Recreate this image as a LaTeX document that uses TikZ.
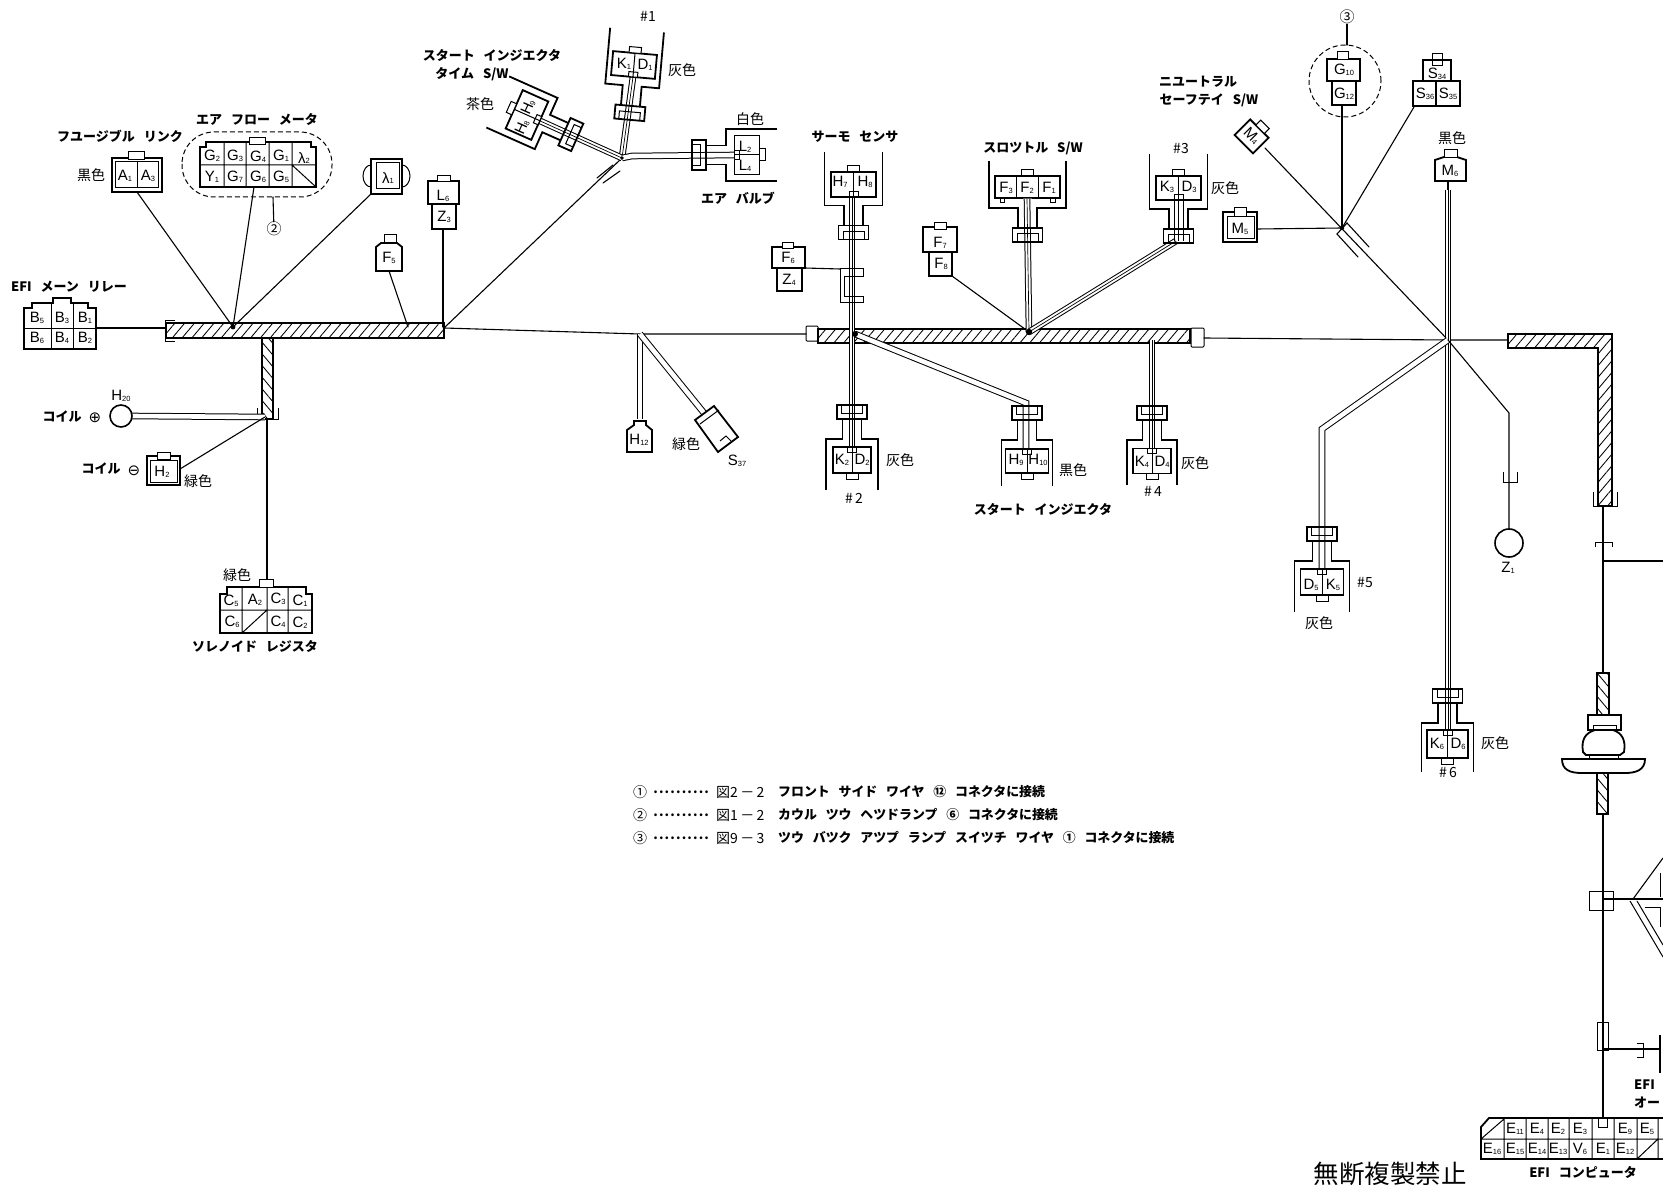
\documentclass[tikz,border=0pt]{standalone}
\usepackage{fontspec}
\usetikzlibrary{patterns.meta}
\setmainfont{Liberation Sans}
\newfontfamily\jp[WordSpace=3]{Noto Sans CJK JP}
\newfontfamily\dejaf{DejaVu Sans}
\newcommand\pn[2]{#1\raisebox{-.5pt}{\fontsize{7.5}{7.5}\selectfont #2}}
\def\tabh{5}
\tikzset{
 wire/.style={line width=1.1pt,line cap=round},
 box/.style={line width=1.8pt,line join=miter},
 thinbox/.style={line width=1pt},
 bundle/.style={draw=black,double=white,double distance=4.6pt,line width=1pt,line join=miter},
 midw/.style={line width=.7pt},
 harn/.style={draw=black,line width=1.2pt,pattern={Lines[angle=50,distance=7.5pt,line width=.85pt]}},
 harnb/.style={draw=black,line width=1.2pt,pattern={Lines[angle=-50,distance=7.5pt,line width=.85pt]}},
 pl/.style={inner sep=0pt,font=\fontsize{15}{15}\selectfont},
 kt/.style={inner sep=0pt,font=\jp\bfseries\fontsize{13}{13}\selectfont},
 num/.style={inner sep=0pt,font=\jp\fontsize{14}{14}\selectfont},
 col/.style={inner sep=0pt,font=\jp\fontsize{14}{14}\selectfont},
 cn/.style={inner sep=0pt,font=\jp\fontsize{15}{15}\selectfont},
 lg/.style={inner sep=0pt,anchor=west,font=\jp\bfseries\fontsize{12.9}{12.9}\selectfont},
 lgr/.style={inner sep=0pt,anchor=west,font=\jp\fontsize{14}{14}\selectfont},
 dashb/.style={line width=1pt,dash pattern=on 5pt off 3pt}
}
\newcommand\twin[1]{\draw[bundle] #1;\draw[midw] #1;}
% injector body: x y rot flip walltop wallhalf connhalf connh
\newcommand\injbody[8]{%
 \begin{scope}[shift={(#1,#2)},rotate=#3,yscale=#4]
  \draw[box] (-#6,-#5) -- (-#6,21) -- (-9.5,21) -- (-9.5,41);
  \draw[box] (#6,-#5) -- (#6,21) -- (9.5,21) -- (9.5,41);
  \draw[box] (-15,41) rectangle (15,55);
  \draw[thinbox] (-10.5,55) -- (-10.5,47) -- (10.5,47) -- (10.5,55);
  \draw[box,fill=white] (-#7,-#8) rectangle (#7,#8);
  \draw[thinbox,fill=white] (-6,-#8-6) rectangle (6,-#8);
  \draw[thinbox,fill=white] (-4.5,#8-\tabh) rectangle (4.5,#8);
 \end{scope}}
\newcommand\inj[8]{\injbody{#1}{#2}{#3}{#4}{#5}{#6}{#7}{#8}%
 \begin{scope}[shift={(#1,#2)},rotate=#3,yscale=#4]\draw[thinbox] (0,-#8) -- (0,#8);\end{scope}}
\begin{document}
\begin{tikzpicture}[x=1pt,y=-1pt]
\fill[white] (0,0) rectangle (1663,1185);
\useasboundingbox (0,0) rectangle (1663,1185);
% hubs
\coordinate (hubA) at (233,327);
\coordinate (hubB) at (444,328);
\coordinate (hubC) at (622,158);
\coordinate (hubD) at (640,334);
\coordinate (hubE) at (855,334);
\coordinate (hubF) at (1029,332);
\coordinate (hubG) at (1342,228);
\coordinate (hubH) at (1448,340);
\coordinate (hubI) at (1603,561);
% harnesses
\draw[harn] (166,323) rectangle (444,338);
\draw[harnb] (262,338) rectangle (273,419);
\draw[harn] (818,329) rectangle (1190,343);
\draw[harn] (1508,334) -- (1612,334) -- (1612,506) -- (1598,506) -- (1598,348) -- (1508,348) -- cycle;
\draw[harnb] (1597,673) rectangle (1609,715);
\draw[harnb] (1597,773) rectangle (1608,814);
% end caps
\draw[thinbox] (175,320) -- (165,320) -- (165,341) -- (175,341);
\draw[thinbox] (257,408) -- (257,419) -- (278,419) -- (278,408);
\draw[thinbox,rounded corners=1pt] (806,326) rectangle (818,341);
\draw[thinbox,rounded corners=1pt] (1191,328) rectangle (1204,347);
\draw[thinbox] (1593,492) -- (1593,506) -- (1617,506) -- (1617,492);
% main wires
\coordinate (capL) at (806,334);
\coordinate (capR) at (1204,338);
\coordinate (relay) at (96,328);
\coordinate (harnL) at (165,328);
\draw[wire] (relay) -- (harnL);
\draw[wire] (hubB) -- (hubD) -- (capL);
\draw[wire] (capR) -- (hubH) -- (1508,340);
% EFI main relay
\draw[box] (24,349) -- (24,308) -- (32,308) -- (32,303) -- (53,303) -- (53,298) -- (71,298) -- (71,303) -- (88,303) -- (88,308) -- (96,308) -- (96,349) -- cycle;
\draw[thinbox] (24,328) -- (96,328) (51,303) -- (51,349) (73,303) -- (73,349);
\node[kt] (tEFI) at (69,287) {EFI メーン リレー};
\node[pl] (b5) at (37,318) {\pn{B}{5}};
\node[pl] (b3) at (62,318) {\pn{B}{3}};
\node[pl] (b1) at (85,318) {\pn{B}{1}};
\node[pl] (b6) at (37,338) {\pn{B}{6}};
\node[pl] (b4) at (62,338) {\pn{B}{4}};
\node[pl] (b2) at (85,338) {\pn{B}{2}};
% fusible link
\coordinate (pA) at (137,192);
\draw[box] (112,158) rectangle (162,192);
\draw[thinbox] (115,162) rectangle (158,188) (137,162) -- (137,188);
\draw[thinbox,fill=white] (128,152) rectangle (144,160);
\node[kt] (tFL) at (120,136) {フユージブル リンク};
\node[col] (cA) at (91,175) {黒色};
\node[pl] (a1) at (125,176) {\pn{A}{1}};
\node[pl] (a3) at (148,176) {\pn{A}{3}};
\draw[wire] (pA) -- (hubA);
% air flow meter
\node[kt] (tAF) at (257,119) {エア フロー メータ};
\draw[dashb,rounded corners=32pt] (182,132) rectangle (332,197);
\draw[box] (200,187) -- (200,147) -- (206,147) -- (206,142) -- (311,142) -- (311,147) -- (316,147) -- (316,187) -- cycle;
\draw[thinbox] (200,165) -- (316,165) (224,142) -- (224,187) (246,142) -- (246,187) (269,142) -- (269,187) (292,142) -- (292,187) (292,165) -- (316,187);
\draw[thinbox,fill=white] (249,138) rectangle (265,145);
\node[pl] (g2) at (212,156) {\pn{G}{2}};
\node[pl] (g3) at (235,156) {\pn{G}{3}};
\node[pl] (g4) at (258,157) {\pn{G}{4}};
\node[pl] (g1) at (281,156) {\pn{G}{1}};
\node[pl] (l2) at (304,158) {\pn{λ}{2}};
\node[pl] (y1) at (212,177) {\pn{Y}{1}};
\node[pl] (g7) at (235,177) {\pn{G}{7}};
\node[pl] (g6) at (258,177) {\pn{G}{6}};
\node[pl] (g5) at (281,177) {\pn{G}{5}};
\coordinate (pG) at (254,187);
\draw[wire] (pG) -- (hubA);
\node[cn] (c2) at (274,229) {②};
\coordinate (oval2) at (273,197);
\draw[wire] (oval2) -- (c2);
% lambda 1
\coordinate (pL) at (371,194);
\draw[box] (371,159) rectangle (402,194);
\draw[thinbox] (376,163) rectangle (399,189);
\draw[thinbox] (371,165) arc[start angle=90,end angle=270,x radius=8pt,y radius=11pt];
\draw[thinbox] (402,165) arc[start angle=90,end angle=-90,x radius=8pt,y radius=11pt];
\node[pl] (l1) at (388,178) {\pn{λ}{1}};
\draw[wire] (pL) -- (hubA);
% L6 Z3
\draw[box] (428,181) rectangle (459,204);
\draw[box] (432,204) rectangle (456,229);
\draw[thinbox,fill=white] (437,176) rectangle (450,182);
\node[pl] (l6) at (443,196) {\pn{L}{6}};
\node[pl] (z3) at (444,217) {\pn{Z}{3}};
\coordinate (pZ3) at (443,229);
\draw[wire] (pZ3) -- (443,327);
% F5
\draw[box] (376,271) -- (376,247) -- (381,243) -- (397,243) -- (402,247) -- (402,271) -- cycle;
\draw[thinbox] (384,243) -- (384,235) -- (396,235) -- (396,243);
\node[pl] (f5) at (389,258) {\pn{F}{5}};
\coordinate (pF5) at (389,271);
\draw[wire] (pF5) -- (408,327);
% hub C wires
\draw[wire] (hubB) -- (hubC);
\draw[wire] (597,178) -- (613,165) (603,183) -- (620,171);
\coordinate (p1) at (633,77);
\coordinate (pSW) at (538,120);
\coordinate (pAV) at (735,155);
\twin{(hubC) -- (p1)}
\twin{(hubC) -- (pSW)}
\draw[bundle] (hubC) -- (632,156) -- (pAV);
\inj{634}{65}{-5}{1}{35}{27}{22}{12}
\inj{527}{115}{66}{1}{32}{28}{21}{14}
\inj{747}{155}{-90}{1}{30}{26}{19.5}{12.5}
\node[num] (n1) at (648,16) {\#1};
\node[col] (c1) at (682,70) {灰色};
\node[pl] (k1) at (624,64) {\pn{K}{1}};
\node[pl] (d1) at (645,65) {\pn{D}{1}};
\node[kt] (tSI) at (492,55) {スタート インジエクタ};
\node[kt] (tTS) at (472,74) {タイム S/W};
\node[col] (cCh) at (480,104) {茶色};
\node[pl,rotate=66] (h9a) at (528,107) {\pn{H}{9}};
\node[pl,rotate=66] (h8a) at (522,127) {\pn{H}{8}};
\node[col] (cW) at (750,119) {白色};
\node[kt] (tAV) at (738,198) {エア バルブ};
\node[pl] (l2b) at (745,147) {\pn{L}{2}};
\node[pl] (l4b) at (745,166) {\pn{L}{4}};
% coil
\coordinate (pH20) at (132,416);
\coordinate (hubCoil) at (265,417);
\draw[bundle] (pH20) -- (hubCoil);
\node[draw,circle,line width=1.6pt,minimum size=22pt,inner sep=0pt,fill=white] (h20) at (121,416) {};
\node[pl] (th20) at (121,396) {\pn{H}{20}};
\node[kt] (tC1) at (62,417) {コイル};
\node[inner sep=0pt,font=\dejaf\fontsize{15}{15}\selectfont] (plus) at (95,418) {⊕};
\node[kt] (tC2) at (101,469) {コイル};
\node[inner sep=0pt,font=\dejaf\fontsize{15}{15}\selectfont] (minus) at (134,471) {⊖};
\draw[box] (147,456) rectangle (180,485);
\draw[thinbox] (150,460) rectangle (177,482);
\draw[thinbox,fill=white] (157,452) rectangle (170,459);
\node[pl] (h2) at (162,472) {\pn{H}{2}};
\node[col] (cG1) at (198,481) {緑色};
\coordinate (pH2) at (180,469);
\draw[wire] (pH2) -- (hubCoil);
% solenoid resistor
\coordinate (pSR) at (267,579);
\draw[wire] (267,420) -- (pSR);
\draw[box] (220,633) -- (220,594) -- (227,594) -- (227,587) -- (306,587) -- (306,594) -- (312,594) -- (312,633) -- cycle;
\draw[thinbox] (220,610) -- (312,610) (242,587) -- (242,633) (267,587) -- (267,633) (288,587) -- (288,633) (242,633) -- (267,610);
\draw[thinbox,fill=white] (259,579) rectangle (273,587);
\node[col] (cG2) at (237,575) {緑色};
\node[kt] (tSR) at (255,646) {ソレノイド レジスタ};
\node[pl] (c5) at (231,601) {\pn{C}{5}};
\node[pl] (a2) at (255,600) {\pn{A}{2}};
\node[pl] (c3) at (278,599) {\pn{C}{3}};
\node[pl] (c1t) at (300,601) {\pn{C}{1}};
\node[pl] (c6) at (232,622) {\pn{C}{6}};
\node[pl] (c4) at (278,622) {\pn{C}{4}};
\node[pl] (c2t) at (300,623) {\pn{C}{2}};
% H12, S37
\coordinate (pH12) at (640,419);
\draw[bundle] (hubD) -- (pH12);
\draw[box] (627,452) -- (627,430) -- (634,425) -- (634,421) -- (646,421) -- (646,425) -- (652,430) -- (652,452) -- cycle;
\node[pl] (h12) at (639,440) {\pn{H}{12}};
\coordinate (pS37) at (704,413);
\draw[bundle] (hubD) -- (pS37);
\draw[box] (695,420) -- (714,406) -- (738,437) -- (718,452) -- cycle;
\draw[thinbox] (700,424) -- (719,410);
\draw[thinbox] (720,441) -- (726,436) -- (731,441);
\node[col] (cG3) at (686,444) {緑色};
\node[pl] (s37) at (737,461) {\pn{S}{37}};
% thermo sensor / #2
\coordinate (pH7) at (852,197);
\coordinate (pK2) at (852,447);
\twin{(pH7) -- (pK2)}
\inj{853.5}{184.5}{0}{1}{32.5}{29}{22.5}{12.5}
\inj{852}{460}{0}{-1}{30}{26}{19}{13}
\node[kt] (tTH) at (855,137) {サーモ センサ};
\node[pl] (h7) at (840,182) {\pn{H}{7}};
\node[pl] (h8) at (865,182) {\pn{H}{8}};
\node[pl] (k2) at (842,460) {\pn{K}{2}};
\node[pl] (d2) at (862,460) {\pn{D}{2}};
\node[col] (cg2a) at (900,460) {灰色};
\node[num] (n2) at (854,498) {\#\,2};
% F6 Z4
\draw[box] (772,247) rectangle (805,268);
\draw[box] (777,268) rectangle (802,291);
\draw[thinbox,fill=white] (782,243) rectangle (793,249);
\node[pl] (f6) at (788,258) {\pn{F}{6}};
\node[pl] (z4) at (789,280) {\pn{Z}{4}};
\coordinate (pF6) at (805,268);
\coordinate (clip) at (840,269);
\draw[wire] (pF6) -- (clip);
\draw[thinbox] (clip) -- (863,269) -- (863,276) -- (844,276) -- (844,296) -- (863,296) -- (863,302) -- (840,302) -- cycle;
% F7 F8
\draw[box] (923,227) rectangle (957,252);
\draw[box] (929,252) rectangle (952,276);
\draw[thinbox,fill=white] (934,223) rectangle (946,230);
\node[pl] (f7) at (940,243) {\pn{F}{7}};
\node[pl] (f8) at (941,264) {\pn{F}{8}};
\coordinate (pF8) at (952,276);
\draw[wire] (pF8) -- (hubF);
% throttle
\coordinate (pF2) at (1027,198);
\twin{(pF2) -- (hubF)}
\def\tabh{0.01}
\injbody{1027.5}{187}{0}{1}{26}{38.5}{32.5}{11}
\def\tabh{5}
\draw[thinbox] (1016,176) -- (1016,198) (1038,176) -- (1038,198);
\draw[thinbox] (1000,198) rectangle (1004,203) (1050,198) rectangle (1055,203);
\node[kt] (tTS2) at (1033,148) {スロツトル S/W};
\node[pl] (f3) at (1006,188) {\pn{F}{3}};
\node[pl] (f2) at (1027,188) {\pn{F}{2}};
\node[pl] (f1) at (1049,188) {\pn{F}{1}};
% #3
\coordinate (pK3) at (1176,241);
\twin{(hubF) -- (pK3)}
\draw[midw] (1178.5,200) -- (1178.5,241) (1174,200) -- (1174,241) (1183,200) -- (1183,241);
\inj{1178.5}{188}{0}{1}{34}{29}{22.5}{12}
\node[num] (n3) at (1181,149) {\#3};
\node[pl] (k3) at (1167,187) {\pn{K}{3}};
\node[pl] (d3) at (1189,187) {\pn{D}{3}};
\node[col] (cg3) at (1225,188) {灰色};
% start injector
\coordinate (pSI) at (1026,449);
\draw[bundle] (hubE) -- (1026,403) -- (pSI);
\inj{1027}{461}{0}{-1}{25}{25.5}{21.5}{12}
\node[pl] (h9) at (1016,460) {\pn{H}{9}};
\node[pl] (h10) at (1038,460) {\pn{H}{10}};
\node[col] (cb2) at (1073,470) {黒色};
\node[kt] (tSI2) at (1043,509) {スタート インジエクタ};
% #4
\coordinate (pK4a) at (1152,340);
\coordinate (pK4) at (1152,449);
\twin{(pK4a) -- (pK4)}
\inj{1152}{461}{0}{-1}{24}{25}{19}{12.5}
\node[pl] (k4) at (1142,462) {\pn{K}{4}};
\node[pl] (d4) at (1162,462) {\pn{D}{4}};
\node[col] (cg4) at (1195,463) {灰色};
\node[num] (n4) at (1153,491) {\#\,4};
% blobs
\fill (hubA) circle (2.4pt) (hubB) circle (1.5pt) (hubC) circle (1.8pt) (hubE) circle (3pt) (hubF) circle (3.2pt) (hubG) circle (2.2pt) (hubH) circle (3pt);
% hub G group
\coordinate (pM4) at (1265,148);
\coordinate (pG12) at (1342,105);
\coordinate (pS36) at (1414,107);
\coordinate (pM5) at (1257,229);
\draw[wire] (pM4) -- (hubH);
\draw[wire] (pG12) -- (hubG);
\draw[wire] (pS36) -- (hubG);
\draw[wire] (pM5) -- (hubG);
\draw[wire] (1358,257) -- (1337,234) -- (1347,223) -- (1369,247);
% M4
\begin{scope}[shift={(1253,135)},rotate=-45]
 \draw[box,fill=white] (-13,-9) -- (13,-9) -- (13,13) -- (-13,13) -- cycle;
 \draw[thinbox,fill=white] (-5,-16) rectangle (7,-9);
\end{scope}
\node[pl,rotate=-45] (m4) at (1252,136) {\pn{M}{4}};
% G10 G12
\draw[dashb] (1345,81) circle (36pt);
\draw[box] (1327,59) rectangle (1360,81);
\draw[box] (1332,81) rectangle (1356,105);
\draw[thinbox,fill=white] (1337,52) rectangle (1348,60);
\node[pl] (g10) at (1344,70) {\pn{G}{10}};
\node[pl] (g12) at (1344,94) {\pn{G}{12}};
\node[cn] (c3) at (1347,17) {③};
\coordinate (oval3) at (1347,45);
\draw[wire] (c3) -- (oval3);
% S34-36
\draw[box] (1423,60) rectangle (1451,81);
\draw[box] (1413,81) rectangle (1436,106);
\draw[box] (1436,81) rectangle (1460,106);
\draw[thinbox] (1432,54) rectangle (1442,66) (1432,60) -- (1442,60);
\node[pl] (s34) at (1437,74) {\pn{S}{34}};
\node[pl] (s36) at (1425,94) {\pn{S}{36}};
\node[pl] (s35) at (1448,94) {\pn{S}{35}};
% M5
\draw[box] (1223,212) rectangle (1257,242);
\draw[thinbox] (1227,217) rectangle (1254,239);
\draw[thinbox,fill=white] (1234,208) rectangle (1246,217);
\node[pl] (m5) at (1240,229) {\pn{M}{5}};
\node[kt] (tNS1) at (1198,82) {ニユートラル};
\node[kt] (tNS2) at (1209,100) {セーフテイ S/W};
% M6 and #6
\draw[box] (1435,181) -- (1435,160) -- (1444,157) -- (1457,157) -- (1466,160) -- (1466,181) -- cycle;
\draw[thinbox,fill=white] (1444,150) rectangle (1457,158);
\node[pl] (m6) at (1450,171) {\pn{M}{6}};
\node[col] (cb3) at (1452,138) {黒色};
\coordinate (pM6) at (1448,181);
\coordinate (pK6) at (1448,730);
\draw[wire] (pM6) -- (1448,190);
\draw[bundle] (1448,190) -- (pK6);
\draw[midw] (1448,190) -- (pK6);
\inj{1447.5}{744}{0}{-1}{28}{26}{20.5}{14}
\node[pl] (k6) at (1437,744) {\pn{K}{6}};
\node[pl] (d6) at (1458,744) {\pn{D}{6}};
\node[col] (cg6) at (1495,743) {灰色};
\node[num] (n6) at (1448,773) {\#\,6};
% #5
\coordinate (pK5) at (1322,569);
\draw[bundle] (hubH) -- (1322,429) -- (pK5);
\inj{1322}{582}{0}{-1}{30}{27.5}{21.5}{13}
\node[pl] (d5) at (1311,585) {\pn{D}{5}};
\node[pl] (k5) at (1333,585) {\pn{K}{5}};
\node[num] (n5) at (1365,583) {\#5};
\node[col] (cg5) at (1319,623) {灰色};
% Z1
\coordinate (pZ1) at (1509,529);
\draw[wire] (hubH) -- (1509,413) -- (pZ1);
\draw[thinbox] (1503,472) -- (1503,482) -- (1517,482) -- (1517,472);
\node[draw,circle,line width=1.6pt,minimum size=28pt,inner sep=0pt,fill=white] (z1c) at (1509,543) {};
\node[pl] (z1) at (1508,568) {\pn{Z}{1}};
% right vertical run
\coordinate (capB) at (1603,506);
\coordinate (grom) at (1603,672);
\draw[wire] (capB) -- (grom);
\draw[thinbox] (1595,547) -- (1595,542) -- (1612,542) -- (1612,547);
\coordinate (rEdge) at (1663,561);
\draw[wire] (hubI) -- (rEdge);
% grommet
\draw[box] (1588,715) rectangle (1621,730);
\draw[thinbox] (1593,730) -- (1593,725) -- (1616,725) -- (1616,730);
\draw[box] (1595,730) .. controls (1585,733) and (1581,740) .. (1583,752) -- (1586,755) -- (1620,755) -- (1624,752) .. controls (1626,740) and (1622,733) .. (1613,730);
\draw[thinbox] (1589,755) -- (1589,759) (1618,755) -- (1618,759);
\draw[box] (1562,759) -- (1645,759) .. controls (1645,770) and (1636,773) .. (1625,773) -- (1582,773) .. controls (1570,773) and (1562,770) .. (1562,759) -- cycle;
% lower run
\coordinate (gromB) at (1603,814);
\coordinate (ecuTop) at (1603,1118);
\draw[wire] (gromB) -- (ecuTop);
\draw[thinbox] (1589,891) rectangle (1613,910);
\coordinate (ySplit) at (1633,899);
\draw[wire] (1603,899) -- (ySplit);
\draw[wire] (ySplit) -- (1663,858);
\draw[wire] (ySplit) -- (1663,899);
\draw[thinbox] (1630,901) -- (1663,957) (1637,901) -- (1663,945);
\draw[thinbox] (1645,907) -- (1660,907) -- (1660,927);
\draw[thinbox] (1660,873) -- (1660,897);
\draw[thinbox] (1597,1022) rectangle (1608,1050);
\coordinate (sBox) at (1603,1049);
\coordinate (bar) at (1660,1049);
\draw[wire] (sBox) -- (bar);
\draw[thinbox] (1637,1043) -- (1643,1043) -- (1643,1057) -- (1637,1057);
\draw[line width=2.4pt] (1660,1035) -- (1660,1073);
\node[kt,anchor=west] (tEF1) at (1634,1085) {EFI};
\node[kt,anchor=west] (tEF2) at (1634,1103) {オー};
% ECU table
\draw[box] (1663,1118) -- (1489,1118) -- (1481,1127) -- (1481,1159) -- (1663,1159);
\draw[thinbox] (1481,1139) -- (1663,1139) (1481,1139) -- (1504,1119)
 (1504,1118) -- (1504,1159) (1526,1118) -- (1526,1159) (1548,1118) -- (1548,1159) (1569,1118) -- (1569,1159) (1592,1118) -- (1592,1159) (1614,1118) -- (1614,1159) (1637,1118) -- (1637,1159) (1658,1118) -- (1658,1159) (1637,1159) -- (1658,1139);
\draw[thinbox] (1598,1118) -- (1598,1127) -- (1607,1127) -- (1607,1118);
\foreach \nn/\xx/\tx in {e11/1515/11,e4/1537/4,e2/1558/2,e3/1580/3,e9/1625/9,e5/1647/5}
 \node[pl] (\nn) at (\xx,1129) {\pn{E}{\tx}};
\foreach \nn/\xx/\tx in {e16/1492/16,e15/1515/15,e14/1537/14,e13/1558/13,e1/1603/1,e12/1625/12}
 \node[pl] (\nn) at (\xx,1149) {\pn{E}{\tx}};
\node[pl] (v6) at (1580,1149) {\pn{V}{6}};
\node[kt] (tECU) at (1583,1172) {EFI コンピュータ};
\node[inner sep=0pt,font=\jp\fontsize{25.5}{25.5}\selectfont] (tNC) at (1390,1174) {無断複製禁止};
% legend
\node[lgr] (l1a) at (633,792) {①};
\node[lg] (l1b) at (652,792) {\makebox[58pt]{\dotfill}};
\node[lgr] (l1c) at (716,792) {図2\,－\,2};
\node[lg] (l1d) at (778,792) {フロント サイド ワイヤ ⑫ コネクタに接続};
\node[lgr] (l2a) at (633,815) {②};
\node[lg] (l2b) at (652,815) {\makebox[58pt]{\dotfill}};
\node[lgr] (l2c) at (716,815) {図1\,－\,2};
\node[lg] (l2d) at (778,815) {カウル ツウ ヘツドランプ ⑥ コネクタに接続};
\node[lgr] (l3a) at (633,838) {③};
\node[lg] (l3b) at (652,838) {\makebox[58pt]{\dotfill}};
\node[lgr] (l3c) at (716,838) {図9\,－\,3};
\node[lg] (l3d) at (778,838) {ツウ バツク アツプ ランプ スイツチ ワイヤ ① コネクタに接続};
\end{tikzpicture}
\end{document}
